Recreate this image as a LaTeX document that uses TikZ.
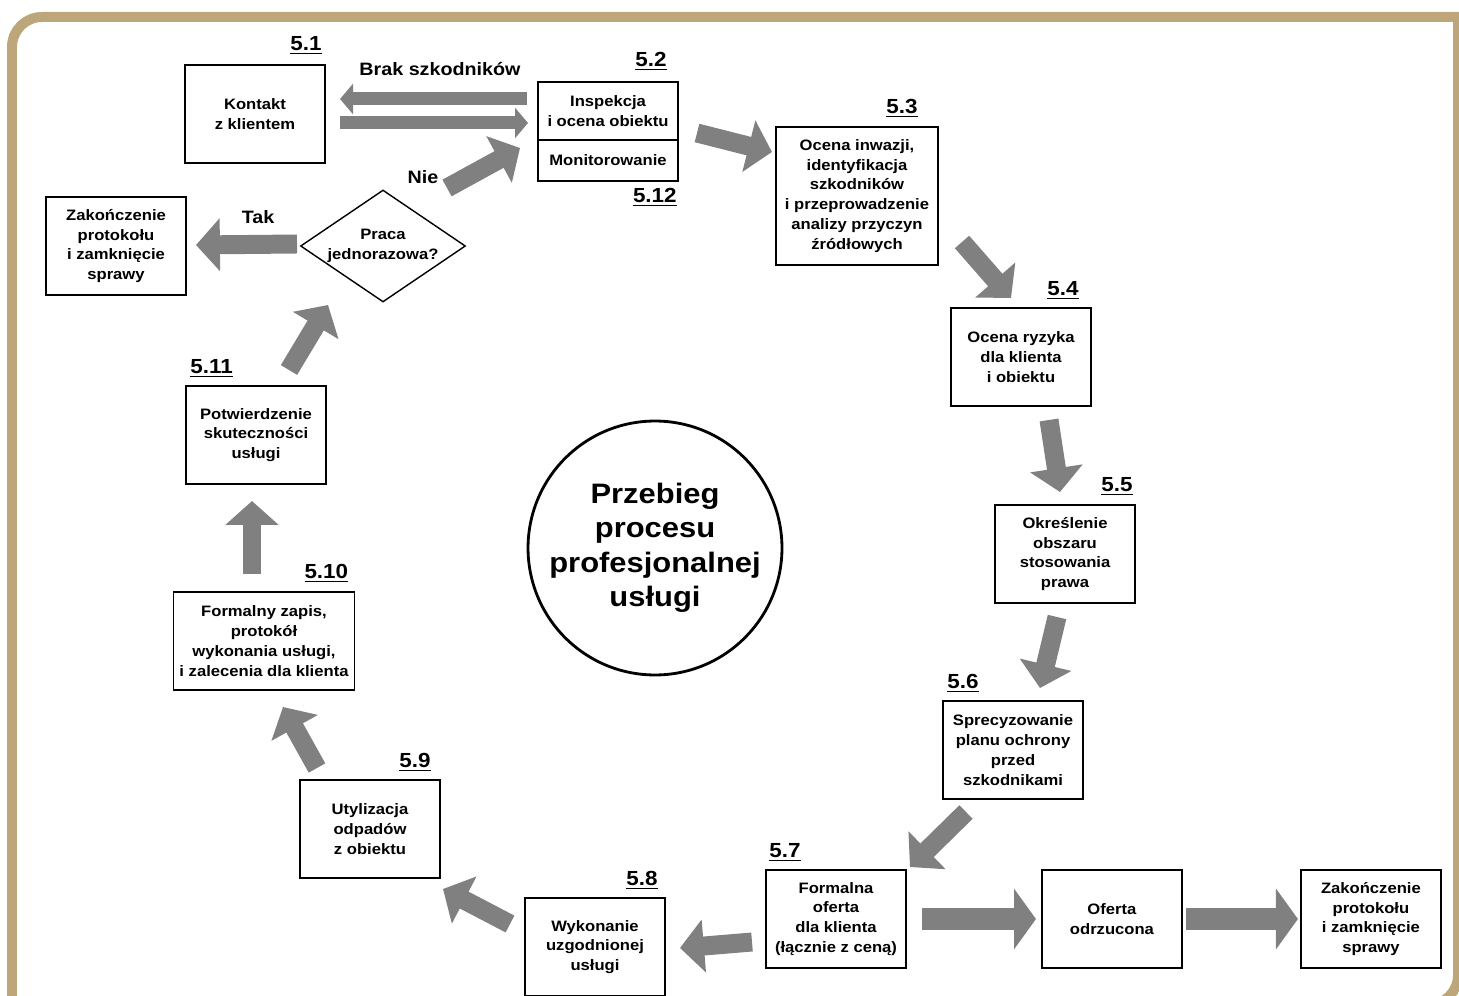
\documentclass[tikz,border=0pt]{standalone}
\usepackage{fontspec}
\setmainfont{Liberation Sans}[FakeStretch=1.1]
\usetikzlibrary{positioning,shapes.geometric,arrows.meta}
\definecolor{ramka}{RGB}{188,166,122}
\definecolor{szary}{RGB}{128,128,128}

\begin{document}
\begin{tikzpicture}[x=0.02cm, y=-0.02cm,
	box/.style={draw, line width=1pt, minimum width=2.8cm, minimum height=1.96cm, align=center, inner sep=2pt, outer sep=0pt, font=\fontsize{8.6}{11.3}\selectfont\bfseries},
	nr/.style={inner sep=0pt, font=\fontsize{11.6}{14}\selectfont\bfseries},
	opis/.style={inner sep=0pt, font=\fontsize{10.2}{12}\selectfont\bfseries},
	strz/.style={draw=szary, color=szary, line width=10.8pt, -{Triangle[length=13.6pt,width=29.5pt]}},
	gruba/.style={draw=szary, color=szary, line width=12.5pt, -{Triangle[length=12.5pt,width=34pt]}},
	cienka/.style={draw=szary, color=szary, line width=7.4pt, -{Triangle[length=7.4pt,width=17pt]}}]
			\useasboundingbox (0,0) rectangle (1459,996);
			\draw[ramka, line width=0.2cm, rounded corners=0.6cm] (12,1010) -- (12,17) -- (1470,17);
			\draw[ramka, line width=0.2cm, rounded corners=0.6cm] (1458,17) -- (1458,1005) -- (1300,1005);
			
			\node[box] (b51) at (255,114) {Kontakt\\z klientem};
			\node[box, minimum height=1.16cm] (b52) at (608,111) {Inspekcja\\i ocena obiektu};
			\node[box, minimum height=0.82cm, below=0pt of b52] (b512) {Monitorowanie};
			\node[box, minimum width=3.24cm, minimum height=2.76cm] (b53) at (857,196) {Ocena inwazji,\\identyfikacja\\szkodników\\i przeprowadzenie\\analizy przyczyn\\źródłowych};
			\node[box] (b54) at (1021,357) {Ocena ryzyka\\dla klienta\\i obiektu};
			\node[box] (b55) at (1065,554) {Określenie\\obszaru\\stosowania\\prawa};
			\node[box] (b56) at (1013,750) {Sprecyzowanie\\planu ochrony\\przed\\szkodnikami};
			\node[box] (b57) at (836,919) {Formalna\\oferta\\dla klienta\\(łącznie z ceną)};
			\node[box, right=2.72cm of b57] (odrz) {Oferta\\odrzucona};
			\node[box, right=2.38cm of odrz] (zak2) {Zakończenie\\protokołu\\i zamknięcie\\sprawy};
			\node[box] (b58) at (595,947) {Wykonanie\\uzgodnionej\\usługi};
			\node[box] (b59) at (370,829) {Utylizacja\\odpadów\\z obiektu};
			\node[box, minimum width=3.62cm] (b510) at (264,641) {Formalny zapis,\\protokół\\wykonania usługi,\\i zalecenia dla klienta};
			\node[box] (b511) at (256,435) {Potwierdzenie\\skuteczności\\usługi};
			\node[box] (zak1) at (116,246) {Zakończenie\\protokołu\\i zamknięcie\\sprawy};
			\node[draw, diamond, line width=0.8pt, minimum width=3.3cm, minimum height=2.24cm, aspect=1.47, inner sep=0pt, align=center, font=\fontsize{8.6}{11.3}\selectfont\bfseries] (pyt) at (383,246) {Praca\\jednorazowa?};
			\node[draw, circle, line width=1.6pt, minimum size=5.08cm, inner sep=0pt, align=center, font=\fontsize{16}{19.6}\selectfont\bfseries] (kolo) at (655,548) {Przebieg\\procesu\\profesjonalnej\\usługi};
			
			\node[nr, above left=0.2cm and 0.06cm of b51.north east] (n51) {\underline{5.1}};
			\node[nr, above left=0.22cm and 0.22cm of b52.north east] (n52) {\underline{5.2}};
			\node[nr, below left=0.14cm and 0.02cm of b512.south east] (n512) {\underline{5.12}};
			\node[nr, above left=0.18cm and 0.4cm of b53.north east] (n53) {\underline{5.3}};
			\node[nr, above left=0.16cm and 0.24cm of b54.north east] (n54) {\underline{5.4}};
			\node[nr, above left=0.18cm and 0.04cm of b55.north east] (n55) {\underline{5.5}};
			\node[nr, above right=0.16cm and 0.08cm of b56.north west] (n56) {\underline{5.6}};
			\node[nr, above right=0.16cm and 0.06cm of b57.north west] (n57) {\underline{5.7}};
			\node[nr, above left=0.16cm and 0.14cm of b58.north east] (n58) {\underline{5.8}};
			\node[nr, above left=0.16cm and 0.18cm of b59.north east] (n59) {\underline{5.9}};
			\node[nr, above left=0.18cm and 0.12cm of b510.north east] (n510) {\underline{5.10}};
			\node[nr, above right=0.16cm and 0.08cm of b511.north west] (n511) {\underline{5.11}};
			
			\node[opis] (brak) at (440,69) {Brak szkodników};
			\node[opis] (tak) at (258,217) {Tak};
			\node[opis] (nie) at (423,177) {Nie};
			
			\coordinate (brak1a) at (527,99);   \coordinate (brak1b) at (340,99);
			\coordinate (brak2a) at (340,123);  \coordinate (brak2b) at (528,123);
			\coordinate (niea) at (447,188);    \coordinate (nieb) at (520,148);
			\coordinate (taka) at (297,244);    \coordinate (takb) at (196,245);
			\coordinate (s23) at (697,133);     \coordinate (e23) at (772,152);
			\coordinate (s34) at (962,242);     \coordinate (e34) at (1011,298);
			\coordinate (s45) at (1049,420);    \coordinate (e45) at (1060,492);
			\coordinate (s56) at (1057,617);    \coordinate (e56) at (1040,688);
			\coordinate (s67) at (966,812);     \coordinate (e67) at (910,867);
			\coordinate (s78) at (752,942);     \coordinate (e78) at (680,948);
			\coordinate (s89) at (510,924);     \coordinate (e89) at (443,889);
			\coordinate (s910) at (317,768);    \coordinate (e910) at (283,707);
			\coordinate (s1011) at (252,574);   \coordinate (e1011) at (252,501);
			\coordinate (s11p) at (289,370);    \coordinate (e11p) at (328,305);
			
			\draw[cienka] (brak1a) -- (brak1b);
			\draw[cienka] (brak2a) -- (brak2b);
			\draw[strz] (niea) -- (nieb);
			\draw[strz] (taka) -- (takb);
			\draw[strz] (s23) -- (e23);
			\draw[strz] (s34) -- (e34);
			\draw[strz] (s45) -- (e45);
			\draw[strz] (s56) -- (e56);
			\draw[strz] (s67) -- (e67);
			\draw[gruba] (b57.east) ++(0.32cm,0) -- ([xshift=-0.12cm]odrz.west);
			\draw[gruba] (odrz.east) ++(0.08cm,0) -- ([xshift=-0.06cm]zak2.west);
			\draw[strz] (s78) -- (e78);
			\draw[strz] (s89) -- (e89);
			\draw[strz] (s910) -- (e910);
			\draw[strz] (s1011) -- (e1011);
			\draw[strz] (s11p) -- (e11p);
		\end{tikzpicture}
\end{document}
